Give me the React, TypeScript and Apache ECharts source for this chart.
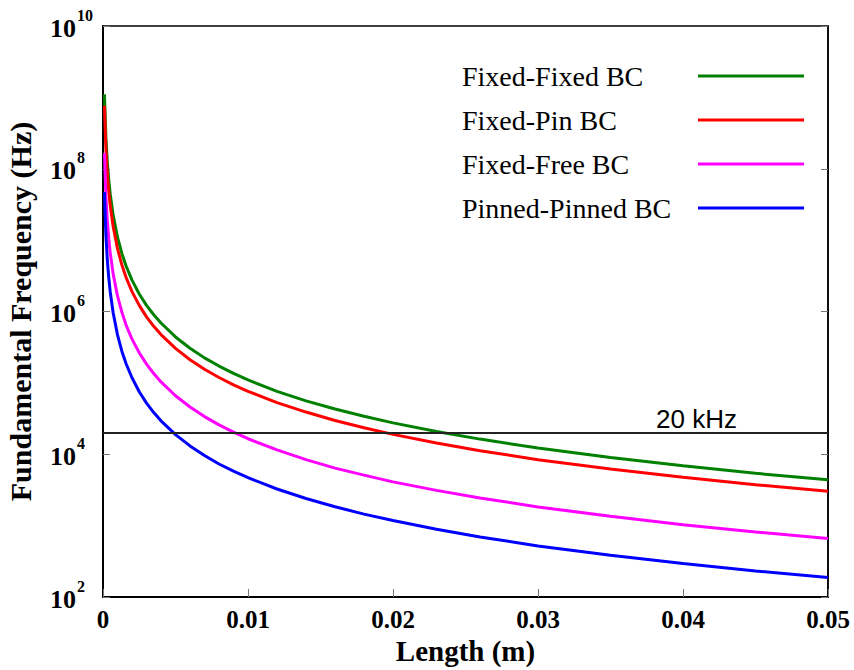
import React, { useEffect, useRef } from 'react';
import * as echarts from 'echarts';

// Length (m) sample positions
const lengths = [
  0.0001, 0.0002, 0.0003, 0.0004, 0.0005, 0.0007, 0.001, 0.0013, 0.0016, 0.002,
  0.0025, 0.003, 0.0035, 0.004, 0.005, 0.006, 0.007, 0.008, 0.009, 0.01,
  0.012, 0.014, 0.016, 0.018, 0.02, 0.023, 0.026, 0.03, 0.035, 0.04, 0.045, 0.05,
];

// Fundamental frequency (Hz)
const fixedFixed = [
  1.1e9, 2.75e8, 1.22e8, 6.9e7, 4.4e7, 2.24e7, 1.1e7, 6.5e6, 4.3e6, 2.75e6,
  1.76e6, 1.22e6, 9.0e5, 6.9e5, 4.4e5, 3.06e5, 2.24e5, 1.72e5, 1.36e5, 1.1e5,
  7.6e4, 5.6e4, 4.3e4, 3.4e4, 2.75e4, 2.08e4, 1.63e4, 1.22e4, 9.0e3, 6.9e3, 5.4e3, 4.4e3,
];
const fixedPin = [
  7.6e8, 1.9e8, 8.4e7, 4.75e7, 3.04e7, 1.55e7, 7.6e6, 4.5e6, 2.97e6, 1.9e6,
  1.22e6, 8.4e5, 6.2e5, 4.75e5, 3.04e5, 2.11e5, 1.55e5, 1.19e5, 9.4e4, 7.6e4,
  5.3e4, 3.9e4, 2.97e4, 2.35e4, 1.9e4, 1.44e4, 1.12e4, 8.4e3, 6.2e3, 4.75e3, 3.75e3, 3.04e3,
];
const fixedFree = [
  1.65e8, 4.1e7, 1.83e7, 1.03e7, 6.6e6, 3.37e6, 1.65e6, 9.8e5, 6.4e5, 4.1e5,
  2.64e5, 1.83e5, 1.35e5, 1.03e5, 6.6e4, 4.6e4, 3.37e4, 2.58e4, 2.04e4, 1.65e4,
  1.15e4, 8.4e3, 6.4e3, 5.1e3, 4.1e3, 3.12e3, 2.44e3, 1.83e3, 1.35e3, 1.03e3, 815, 660,
];
const pinnedPinned = [
  4.7e7, 1.18e7, 5.2e6, 2.94e6, 1.88e6, 9.6e5, 4.7e5, 2.78e5, 1.84e5, 1.18e5,
  7.5e4, 5.2e4, 3.84e4, 2.94e4, 1.88e4, 1.31e4, 9.6e3, 7.3e3, 5.8e3, 4.7e3,
  3.26e3, 2.4e3, 1.84e3, 1.45e3, 1.18e3, 890, 695, 520, 384, 294, 232, 188,
];

const seriesNames = ['Fixed-Fixed BC', 'Fixed-Pin BC', 'Fixed-Free BC', 'Pinned-Pinned BC'];
const seriesValues = [fixedFixed, fixedPin, fixedFree, pinnedPinned];
const seriesColors = ['#008000', '#ff0000', '#ff00ff', '#0000ff'];

const yTickValues = [1e2, 1e4, 1e6, 1e8, 1e10];
const thresholdHz = 20000;
const thresholdLabel = '20 kHz';
const xAxisName = 'Length (m)';
const yAxisName = 'Fundamental Frequency (Hz)';

const serif = '"Liberation Serif", "Times New Roman", serif';

export default function App() {
  const ref = useRef<HTMLDivElement>(null);

  useEffect(() => {
    if (!ref.current) return;
    const chart = echarts.init(ref.current, null, { renderer: 'svg' });

    const yLabelFormatter = (v: number) => {
      const e = Math.round(Math.log10(v));
      return `{b|10}{s|${e}}`;
    };

    const option: any = {
      animation: false,
      backgroundColor: '#fff',
      grid: {
        left: 103,
        right: 26,
        top: 26,
        bottom: 73,
        show: true,
        borderColor: '#000',
        borderWidth: 1.5,
        backgroundColor: 'transparent',
        containLabel: false,
        outerBoundsMode: 'none',
      },
      legend: {
        orient: 'vertical',
        left: 457,
        top: 57,
        align: 'right',
        icon: 'rect',
        itemWidth: 106,
        itemHeight: 3,
        itemGap: 16,
        data: seriesNames,
        formatter: (name: string) => `{t|${name}}`,
        textStyle: {
          color: '#000',
          rich: {
            t: {
              fontFamily: serif,
              fontSize: 28,
              color: '#000',
              width: 231,
              align: 'left',
              lineHeight: 30,
            },
          },
        },
      },
      xAxis: {
        type: 'value',
        min: 0,
        max: 0.05,
        interval: 0.01,
        name: xAxisName,
        nameLocation: 'middle',
        nameGap: 38,
        nameTextStyle: { fontFamily: serif, fontWeight: 'bold', fontSize: 29, color: '#000' },
        axisLine: { show: true, onZero: false, lineStyle: { color: '#000', width: 2 } },
        axisTick: { show: true, inside: true, length: 8, lineStyle: { color: '#777', width: 1 } },
        axisLabel: {
          margin: 10,
          fontFamily: serif,
          fontWeight: 'bold',
          fontSize: 25,
          color: '#000',
          formatter: (v: number) => (v === 0 ? '0' : v.toFixed(2)),
        },
        splitLine: { show: false },
      },
      yAxis: [
        {
          type: 'log',
          logBase: 10,
          min: 1e2,
          max: 1e10,
          name: yAxisName,
          nameLocation: 'middle',
          nameGap: 68,
          nameRotate: 90,
          nameTextStyle: { fontFamily: serif, fontWeight: 'bold', fontSize: 30, color: '#000' },
          axisLine: { show: true, lineStyle: { color: '#000', width: 2 } },
          axisTick: {
            show: true,
            inside: true,
            length: 7,
            customValues: yTickValues,
            lineStyle: { color: '#777', width: 1 },
          },
          minorTick: { show: false },
          axisLabel: {
            margin: 53,
            align: 'left',
            customValues: yTickValues,
            formatter: yLabelFormatter,
            rich: {
              b: {
                fontFamily: serif,
                fontWeight: 'bold',
                fontSize: 26,
                color: '#000',
                lineHeight: 38,
                padding: [0, 0, 4, 0],
                verticalAlign: 'bottom',
              },
              s: {
                fontFamily: serif,
                fontWeight: 'bold',
                fontSize: 16,
                color: '#000',
                lineHeight: 16,
                padding: [0, 0, 0, 1],
                verticalAlign: 'top',
              },
            },
          },
          splitLine: { show: false },
        },
        {
          type: 'log',
          logBase: 10,
          min: 1e2,
          max: 1e10,
          position: 'right',
          axisLine: { show: true, lineStyle: { color: '#000', width: 1.5 } },
          axisTick: {
            show: true,
            inside: true,
            length: 7,
            customValues: yTickValues,
            lineStyle: { color: '#777', width: 1 },
          },
          minorTick: { show: false },
          axisLabel: { show: false },
          splitLine: { show: false },
        },
      ],
      series: seriesNames.map((name, i) => ({
        name,
        type: 'line',
        yAxisIndex: 0,
        data: lengths.map((l, j) => [l, seriesValues[i][j]]),
        showSymbol: false,
        symbol: 'none',
        smooth: false,
        lineStyle: { color: seriesColors[i], width: 3 },
        itemStyle: { color: seriesColors[i] },
        z: 3,
        ...(i === 0
          ? {
              markLine: {
                silent: true,
                symbol: ['none', 'none'],
                lineStyle: { color: '#222', width: 2, type: 'solid' },
                data: [{ yAxis: thresholdHz }],
                label: {
                  show: true,
                  position: 'insideEndTop',
                  formatter: thresholdLabel,
                  fontFamily: '"Liberation Sans", Arial, sans-serif',
                  fontSize: 26,
                  color: '#000',
                  padding: [0, 90, 0, 0],
                  distance: 1,
                },
              },
            }
          : {}),
      })),
    };

    chart.setOption(option);
    return () => chart.dispose();
  }, []);

  return (
    <div
      ref={ref}
      style={{ position: 'fixed', left: 0, top: 0, width: 854, height: 670 }}
    />
  );
}
